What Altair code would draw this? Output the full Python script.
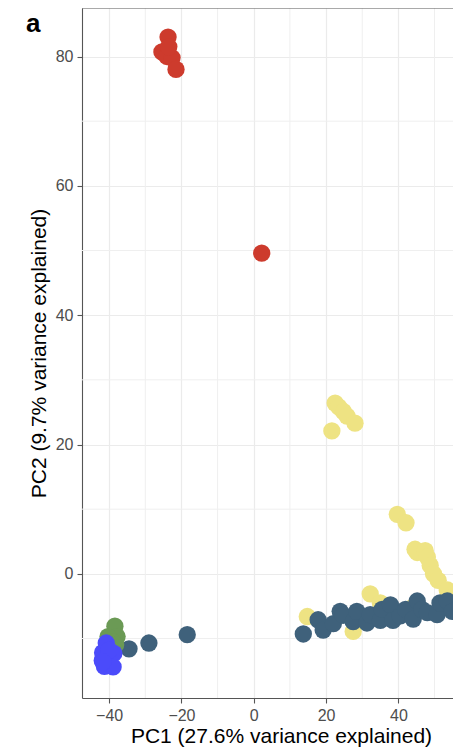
import altair as alt
import pandas as pd

# ---- data ----
groups = ["yellow", "dark", "green", "blue", "red"]
colors = ["#EEE383", "#3F617B", "#6B9A55", "#4B4BFA", "#CD3B2D"]

yellow_x = [22.5, 23.5, 24.8, 25.8, 28.0, 21.6, 39.7, 42.1, 44.6, 45.2, 47.4, 48.0, 48.8, 49.7, 51.0,
            53.5, 55.7, 57.0, 32.2, 14.8, 27.5, 44.1, 35.0]
yellow_y = [26.4, 25.8, 25.1, 24.4, 23.3, 22.1, 9.2, 7.9, 3.8, 3.3, 3.6, 2.6, 1.3, 0.0, -1.0,
            -2.5, -3.3, -4.0, -3.1, -6.6, -8.9, -5.1, -4.5]

dark_x = [-34.5, -29.0, -18.4, 13.7, 17.8, 19.2, 22.0, 23.9, 24.7, 27.5, 28.5, 31.3, 32.2, 35.0, 35.5,
          37.8, 38.5, 40.5, 42.0, 44.1, 45.2, 46.5, 48.0, 50.7, 51.5, 53.5, 54.9, 57.0]
dark_y = [-11.6, -10.7, -9.4, -9.3, -7.1, -8.7, -7.7, -5.8, -6.4, -7.4, -5.8, -7.6, -6.3, -7.2, -5.5,
          -4.8, -7.2, -6.5, -5.5, -7.0, -4.2, -5.5, -6.0, -6.3, -4.5, -4.2, -5.8, -5.0]

green_x = [-38.4, -37.8, -40.3, -39.0, -38.2, -39.2]
green_y = [-8.1, -9.7, -9.7, -10.5, -11.0, -11.8]

blue_x = [-41.9, -41.3, -40.5, -39.8, -38.7, -40.8, -41.8, -38.9, -40.0, -41.7]
blue_y = [-13.4, -14.3, -13.8, -12.7, -12.3, -10.7, -12.2, -14.4, -11.8, -13.6]

red_x = [-23.7, -25.4, -24.0, -22.6, -21.5, -23.5, 2.2]
red_y = [83.0, 80.7, 80.0, 79.8, 78.0, 81.5, 49.6]

x_major = [-40, -20, 0, 20, 40]
y_major = [0, 20, 40, 60, 80]
x_minor = [-30, -10, 10, 30, 50]
y_minor = [-10, 10, 30, 50, 70]

x_title = "PC1 (27.6% variance explained)"
y_title = "PC2 (9.7% variance explained)"
panel_label = "a"

# ---- build table ----
series = {"yellow": (yellow_x, yellow_y), "dark": (dark_x, dark_y), "green": (green_x, green_y),
          "blue": (blue_x, blue_y), "red": (red_x, red_y)}
rows = []
i = 0
for g in groups:
    xs_, ys_ = series[g]
    for a, b in zip(xs_, ys_):
        rows.append({"x": a, "y": b, "g": g, "i": i})
        i += 1
df = pd.DataFrame(rows)

W, H = 371, 690
FONT = "Liberation Sans"
xsc = alt.Scale(domain=[-47.5, 55.1], nice=False, zero=False)
ysc = alt.Scale(domain=[-19.2, 87.5], nice=False, zero=False)

x_axis = alt.Axis(values=x_major, title=x_title, titleX=199, titlePadding=2,
                  labelPadding=4, tickSize=5)
y_axis = alt.Axis(values=y_major, title=y_title, titlePadding=6,
                  labelPadding=4, tickSize=5)

minor_x = alt.Chart(pd.DataFrame({"v": x_minor})).mark_rule(color="#EFEFEF", strokeWidth=1).encode(
    x=alt.X("v:Q", scale=xsc, axis=x_axis))
minor_y = alt.Chart(pd.DataFrame({"v": y_minor})).mark_rule(color="#EFEFEF", strokeWidth=1).encode(
    y=alt.Y("v:Q", scale=ysc, axis=y_axis))

points = alt.Chart(df).mark_circle(size=300, opacity=1).encode(
    x=alt.X("x:Q", scale=xsc, axis=x_axis),
    y=alt.Y("y:Q", scale=ysc, axis=y_axis),
    color=alt.Color("g:N", scale=alt.Scale(domain=groups, range=colors), legend=None),
    order=alt.Order("i:Q"),
)

top_border = alt.Chart(pd.DataFrame({"a": [0]})).mark_rule(color="#555555", strokeWidth=1.1).encode(
    x=alt.value(0), x2=alt.value(W + 5), y=alt.value(0))

label = alt.Chart(pd.DataFrame({"t": [panel_label]})).mark_text(
    fontSize=26, fontWeight="bold", align="left", baseline="alphabetic", font=FONT, color="#000000"
).encode(text="t:N", x=alt.value(-56), y=alt.value(24))

chart = alt.layer(minor_x, minor_y, points, top_border, label).properties(
    width=W, height=H,
    autosize=alt.AutoSizeParams(type="none"),
    padding={"left": 74, "top": 0, "right": 0, "bottom": 50},
).configure_view(strokeOpacity=0).configure_axis(
    grid=True, gridColor="#EBEBEB", gridWidth=1.2,
    domainColor="#555555", domainWidth=1.1,
    tickColor="#555555", tickWidth=1.1,
    labelFont=FONT, labelFontSize=16, labelColor="#4D4D4D",
    titleFont=FONT, titleFontSize=21, titleFontWeight="normal", titleColor="#000000",
)

chart.save("out.html", embed_options={"renderer": "svg", "actions": False})
